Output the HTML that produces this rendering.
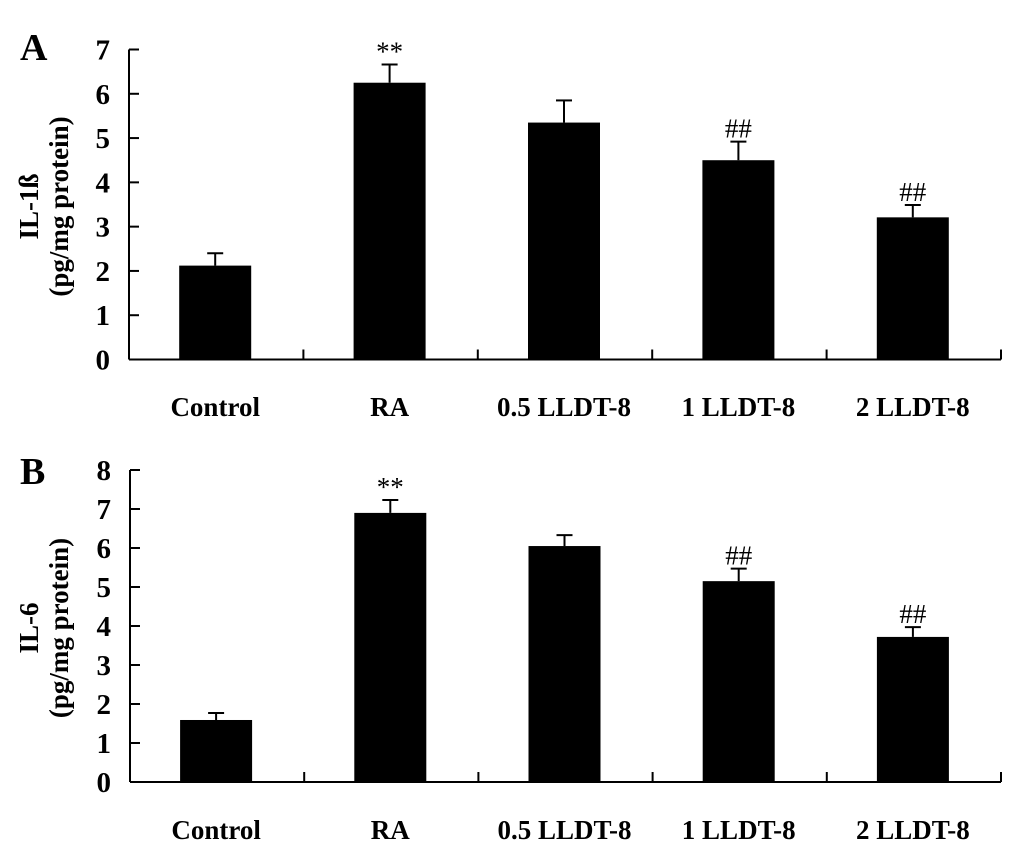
<!DOCTYPE html>
<html><head><meta charset="utf-8"><style>
html,body{margin:0;padding:0;background:#fff;}
svg{display:block;font-family:"Liberation Serif",serif;font-weight:bold;}
</style></head><body>
<svg id="chart" width="1033" height="854" viewBox="0 0 1033 854" xmlns="http://www.w3.org/2000/svg"></svg>
<script>
const categories = ["Control","RA","0.5 LLDT-8","1 LLDT-8","2 LLDT-8"];
const valuesA = [2.12, 6.25, 5.35, 4.5, 3.21];
const errorsA = [0.28, 0.41, 0.5, 0.42, 0.28];
const marksA = ["", "**", "", "##", "##"];
const ticksA = [0,1,2,3,4,5,6,7];
const valuesB = [1.59, 6.9, 6.05, 5.15, 3.72];
const errorsB = [0.18, 0.33, 0.28, 0.32, 0.25];
const marksB = ["", "**", "", "##", "##"];
const ticksB = [0,1,2,3,4,5,6,7,8];

const NS = "http://www.w3.org/2000/svg";
const svg = document.getElementById('chart');
function mk(tag, attrs, parent){
  const e = document.createElementNS(NS, tag);
  for (const k in attrs) e.setAttribute(k, attrs[k]);
  (parent||svg).appendChild(e);
  return e;
}
function panel(cfg){
  const g = mk('g', {});
  
  
  const x0 = cfg.x0, x1 = 1001, y0 = cfg.y0, yTop = cfg.yTop, max = cfg.ticks[cfg.ticks.length-1];
  const yS = v => y0 - (y0 - yTop) * v / max;
  const step = (x1 - x0) / categories.length;
  const xC = i => x0 + step * (i + 0.5) - 1;
  const ya = mk('line', {x1:x0, y1:yTop, x2:x0, y2:y0, stroke:'#000', 'stroke-width':2}, g);
  
  
  const xa = mk('line', {x1:x0, y1:y0, x2:x1, y2:y0, stroke:'#000', 'stroke-width':2}, g);
  
  
  cfg.ticks.forEach(t => {
    const y = yS(t);
    mk('line', {x1:x0, y1:y, x2:x0+10, y2:y, stroke:'#000', 'stroke-width':2}, g);
    const tx = mk('text', {x:x0-19, y:y+10, 'font-size':29, 'text-anchor':'end'}, g);
    tx.textContent = t;
    
    
  });
  for (let i = 1; i <= categories.length; i++) {
    const x = x0 + step * i;
    mk('line', {x1:x, y1:y0, x2:x, y2:y0-10, stroke:'#000', 'stroke-width':2}, g);
  }
  categories.forEach((c, i) => {
    const cx = xC(i), v = cfg.values[i], e = cfg.errors[i];
    const top = yS(v), et = yS(v + e);
    mk('line', {x1:cx, y1:top, x2:cx, y2:et, stroke:'#000', 'stroke-width':2}, g);
    mk('line', {x1:cx-8, y1:et, x2:cx+8, y2:et, stroke:'#000', 'stroke-width':2}, g);
    const r = mk('rect', {x:cx-36, y:top, width:72, height:y0-top, fill:'#000'}, g);
    
    
    const lbl = mk('text', {x:cx, y:cfg.labelY, 'font-size':27, 'text-anchor':'middle'}, g);
    lbl.textContent = c;
    
    
    if (cfg.marks[i]) {
      const m = mk('text', {x:cx, y:et-4, 'font-size':27, 'font-weight':'normal', 'text-anchor':'middle'}, g);
      m.textContent = cfg.marks[i];
      
      
    }
  });
  const pl = mk('text', {x:20, y:cfg.letterY, 'font-size':38}, g);
  pl.textContent = cfg.letter;
  
  
  const cy = (y0 + yTop) / 2 + 2;
  const t1 = mk('text', {x:0, y:0, 'font-size':27, 'text-anchor':'middle', transform:`translate(38,${cy}) rotate(-90)`}, g);
  t1.textContent = cfg.title;
  
  
  const t2 = mk('text', {x:0, y:0, 'font-size':27, 'text-anchor':'middle', transform:`translate(68,${cy}) rotate(-90)`}, g);
  t2.textContent = '(pg/mg protein)';
  
  
}
panel({name:'panel-a', letter:'A', letterY:60, title:'IL-1ß', x0:129, y0:359.5, yTop:49.5, ticks:ticksA, values:valuesA, errors:errorsA, marks:marksA, labelY:416});
panel({name:'panel-b', letter:'B', letterY:484, title:'IL-6', x0:130, y0:782, yTop:470, ticks:ticksB, values:valuesB, errors:errorsB, marks:marksB, labelY:839});
</script>
</body></html>
